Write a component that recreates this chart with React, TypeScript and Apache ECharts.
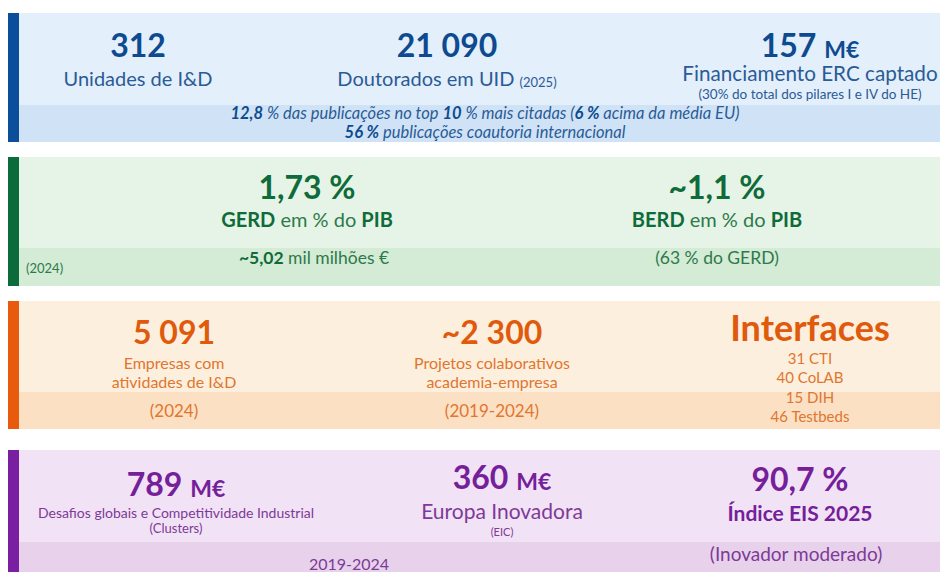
import React, { useEffect, useRef } from "react";
import * as echarts from "echarts";

// ---- data ----
const researchValues = ["312", "21 090", "157"];
const researchUnits = ["", "", "M€"];
const researchLabels = ["Unidades de I&D", "Doutorados em UID", "Financiamento ERC captado"];
const researchNotes = ["", "(2025)", "(30% do total dos pilares I e IV do HE)"];
const publicationShares = ["12,8 %", "10 %", "6 %", "56 %"];

const gdpValues = ["1,73 %", "~1,1 %"];
const gdpLabels = ["GERD", "BERD"];
const gdpNotes = ["~5,02", "(63 % do GERD)"];
const gdpYear = "(2024)";

const businessValues = ["5 091", "~2 300", "Interfaces"];
const businessLabels = [["Empresas com", "atividades de I&D"], ["Projetos colaborativos", "academia-empresa"]];
const businessPeriods = ["(2024)", "(2019-2024)"];
const interfaceCounts = ["31 CTI", "40 CoLAB", "15 DIH", "46 Testbeds"];

const fundingValues = ["789", "360", "90,7 %"];
const fundingUnits = ["M€", "M€", ""];
const fundingLabels = ["Desafios globais e Competitividade Industrial", "Europa Inovadora", "Índice EIS 2025"];
const fundingNotes = ["(Clusters)", "(EIC)", "(Inovador moderado)"];
const fundingPeriod = "2019-2024";

const FONT = 'Lato, "Open Sans", sans-serif';

function txt(x: number, y: number, text: string, fill: string, size: number, weight: any = "normal", extra: any = {}) {
  return {
    type: "text",
    x,
    y,
    style: {
      text,
      fill,
      fontFamily: FONT,
      fontSize: size,
      fontWeight: weight,
      textAlign: "center",
      textVerticalAlign: "middle",
      ...extra,
    },
  };
}

function rich(fill: string, size: number, weight: any, style: any = "normal") {
  return { fill, color: fill, fontFamily: FONT, fontSize: size, fontWeight: weight, fontStyle: style, verticalAlign: "bottom" };
}

function panel(top: number, bottom: number, bandTop: number, bar: string, bg: string, band: string) {
  return [
    { type: "rect", shape: { x: 8, y: top, width: 932, height: bottom - top }, style: { fill: bg } },
    { type: "rect", shape: { x: 19, y: bandTop, width: 921, height: bottom - bandTop }, style: { fill: band } },
    { type: "rect", shape: { x: 8, y: top, width: 11, height: bottom - top }, style: { fill: bar } },
  ];
}

export default function App() {
  const ref = useRef<HTMLDivElement>(null);
  useEffect(() => {
    const chart = echarts.init(ref.current!, null, { renderer: "svg" });
    const blue = "#0d4a8f";
    const blueL = "#2b5b96";
    const green = "#0f6b39";
    const greenL = "#2d7a4a";
    const orange = "#e05a0c";
    const orangeL = "#e0762f";
    const purple = "#74209a";
    const purpleL = "#7d3a98";

    const g: any[] = [
      ...panel(13, 142, 105, "#0b4f9b", "#e3effb", "#d0e3f6"),
      ...panel(157, 286, 248, "#0b6b3a", "#e6f4e7", "#d4ebd6"),
      ...panel(301, 429, 392, "#e85a0c", "#fdefdd", "#fbe0c4"),
      ...panel(450, 580, 542, "#7a1fa2", "#f2e2f5", "#e7d1eb"),
    ];

    // Panel 1: research
    const p1x = [138, 447, 810];
    researchValues.forEach((v, i) => {
      const t = researchUnits[i] ? `{n|${v}} {u|${researchUnits[i]}}` : `{n|${v}}`;
      g.push(txt(p1x[i], 44, t, blue, 32, "bold", { rich: { n: rich(blue, 32, "bold"), u: rich(blue, 23, "bold") } }));
    });
    g.push(txt(p1x[0], 78, researchLabels[0], blueL, 20));
    g.push(
      txt(p1x[1], 78, `{l|${researchLabels[1]}} {s|${researchNotes[1]}}`, blueL, 20, "normal", {
        rich: { l: rich(blueL, 20, "normal"), s: rich(blueL, 13, "normal") },
      })
    );
    g.push(txt(p1x[2], 73, researchLabels[2], blueL, 20.7));
    g.push(txt(p1x[2], 94, researchNotes[2], blueL, 13.5));
    const [s1, s2, s3, s4] = publicationShares;
    const s1n = s1.replace(" %", "");
    const s2n = s2.replace(" %", "");
    const bandRich = { b: { ...rich(blue, 16.5, "bold", "italic"), verticalAlign: "middle" } };
    g.push(
      txt(485, 112.5, `{b|${s1n}} % das publicações no top {b|${s2n}} % mais citadas ({b|${s3}} acima da média EU)`, blueL, 16.5, "normal", {
        fontStyle: "italic",
        rich: bandRich,
      })
    );
    g.push(
      txt(485, 131.5, `{b|${s4}} publicações coautoria internacional`, blueL, 16.5, "normal", {
        fontStyle: "italic",
        rich: bandRich,
      })
    );

    // Panel 2: GDP
    const p2x = [307, 717];
    gdpValues.forEach((v, i) => {
      g.push(txt(p2x[i], 186, v, green, 32, "bold"));
      g.push(
        txt(p2x[i], 219, `{b|${gdpLabels[i]}} em % do {b|PIB}`, greenL, 20, "normal", {
          rich: { b: rich(green, 20, "bold") },
        })
      );
    });
    g.push(
      txt(314, 257, `{b|${gdpNotes[0]}} mil milhões €`, greenL, 17.5, "normal", {
        rich: { b: rich(green, 17.5, "bold") },
      })
    );
    g.push(txt(717, 257, gdpNotes[1], greenL, 17.5));
    g.push(txt(26, 268, gdpYear, greenL, 13, "normal", { textAlign: "left" }));

    // Panel 3: business
    const p3x = [174, 492, 810];
    businessValues.forEach((v, i) => {
      g.push(txt(p3x[i], i === 2 ? 327 : 331, v, orange, i === 2 ? 36 : 32, "bold"));
    });
    businessLabels.forEach((lines, i) => {
      g.push(txt(p3x[i], 362, lines[0], orangeL, 16));
      g.push(txt(p3x[i], 381, lines[1], orangeL, 16));
      g.push(txt(p3x[i], 410, businessPeriods[i], orangeL, 17));
    });
    interfaceCounts.forEach((c, i) => {
      g.push(txt(p3x[2], 358 + i * 19.3, c, orangeL, 15));
    });

    // Panel 4: funding
    const p4x = [176, 502, 800];
    fundingValues.forEach((v, i) => {
      const t = fundingUnits[i] ? `{n|${v}} {u|${fundingUnits[i]}}` : `{n|${v}}`;
      g.push(txt(p4x[i], i === 1 ? 476 : i === 2 ? 478 : 483, t, purple, 32, "bold", { rich: { n: rich(purple, 32, "bold"), u: rich(purple, 23, "bold") } }));
    });
    g.push(txt(p4x[0], 512, fundingLabels[0], purpleL, 14));
    g.push(txt(p4x[0], 528, fundingNotes[0], purpleL, 13));
    g.push(txt(p4x[1], 510, fundingLabels[1], purpleL, 21));
    g.push(txt(p4x[1], 531, fundingNotes[1], purpleL, 11));
    g.push(txt(p4x[2], 512, fundingLabels[2], purple, 21, "bold"));
    g.push(txt(796, 553, fundingNotes[2], purpleL, 19));
    g.push(txt(349, 563, fundingPeriod, purpleL, 16));

    chart.setOption({ animation: false, graphic: { elements: g } });
    return () => chart.dispose();
  }, []);
  return <div ref={ref} style={{ position: "fixed", left: 0, top: 0, width: 940, height: 572, background: "#fff" }} />;
}
